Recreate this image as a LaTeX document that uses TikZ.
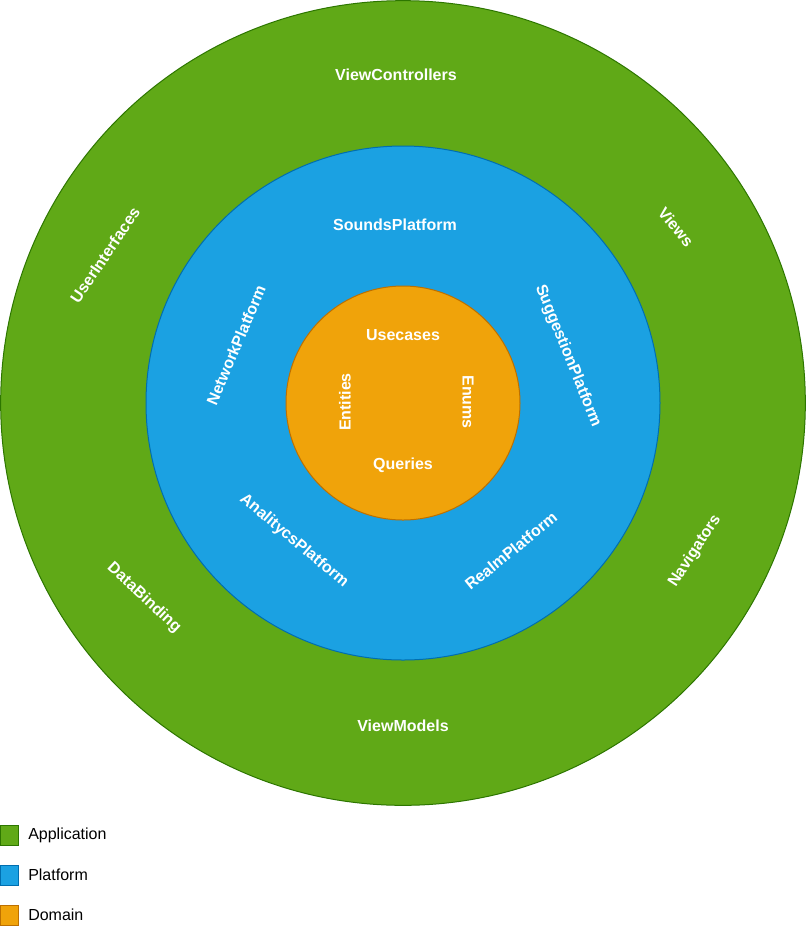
\documentclass[tikz,border=0pt]{standalone}
\usepackage{fontspec}
\setmainfont{Liberation Sans}
\definecolor{appgreen}{HTML}{60A917}
\definecolor{appline}{HTML}{2D7600}
\definecolor{platblue}{HTML}{1BA1E2}
\definecolor{platline}{HTML}{006EAF}
\definecolor{domorange}{HTML}{F0A30A}
\definecolor{domline}{HTML}{BD7000}
\usetikzlibrary{positioning}

\begin{document}
\begin{tikzpicture}[x=0.75pt,y=-0.75pt,
    layer/.style={circle,draw,line width=0.75pt,inner sep=0pt},
    lbl/.style={text=white,inner sep=0pt,font=\bfseries\fontsize{12}{14}\selectfont},
    key/.style={draw,line width=0.75pt,minimum width=14pt,minimum height=15pt,inner sep=0pt},
    keytext/.style={inner sep=0pt,font=\fontsize{12}{14}\selectfont}]
  \useasboundingbox (0,0) rectangle (807,926);

  %% Rings
  \node[layer,fill=appgreen,draw=appline,minimum size=603.5pt] (application) at (403,403) {};
  \node[layer,fill=platblue,draw=platline,minimum size=385.5pt] (platform) at (403,403) {};
  \node[layer,fill=domorange,draw=domline,minimum size=175.5pt] (domain) at (403,403) {};

  %% Application labels
  \node[lbl] (viewcontrollers) at (396,75) {ViewControllers};
  \node[lbl,rotate=-50] (views) at (676,227) {Views};
  \node[lbl,rotate=56] (userinterfaces) at (105,255) {UserInterfaces};
  \node[lbl,rotate=57] (navigators) at (695,551) {Navigators};
  \node[lbl,rotate=-43] (databinding) at (144,598) {DataBinding};
  \node[lbl] (viewmodels) at (403,726) {ViewModels};

  %% Platform labels
  \node[lbl] (soundsplatform) at (395,225) {SoundsPlatform};
  \node[lbl,rotate=67] (networkplatform) at (236,345) {NetworkPlatform};
  \node[lbl,rotate=-68] (suggestionplatform) at (568,356) {SuggestionPlatform};
  \node[lbl,rotate=-40] (analitycsplatform) at (294,541) {AnalitycsPlatform};
  \node[lbl,rotate=39] (realmplatform) at (511,551) {RealmPlatform};

  %% Domain labels
  \node[lbl] (usecases) at (403,335) {Usecases};
  \node[lbl,rotate=90] (entities) at (345,402) {Entities};
  \node[lbl,rotate=-90] (enums) at (468,402) {Enums};
  \node[lbl] (queries) at (403,465) {Queries};

  %% Legend
  \node[key,fill=appgreen,draw=appline] (keyapp) at (9.5,835) {};
  \node[keytext,right=6.5pt of keyapp] (keyapptext) {Application};
  \node[key,fill=platblue,draw=platline] (keyplat) at (9.5,875) {};
  \node[keytext,right=6.5pt of keyplat] (keyplattext) {Platform};
  \node[key,fill=domorange,draw=domline] (keydom) at (9.5,915) {};
  \node[keytext,right=6.5pt of keydom] (keydomtext) {Domain};
\end{tikzpicture}
\end{document}
